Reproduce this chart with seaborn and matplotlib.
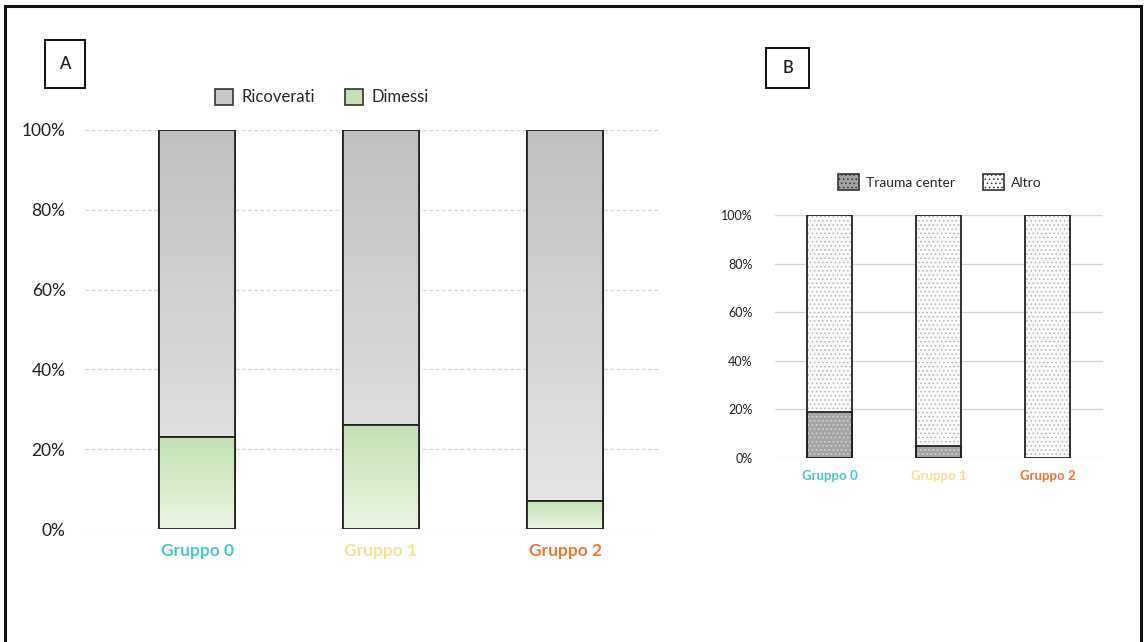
import numpy as np
import pandas as pd
import matplotlib
matplotlib.use("Agg")
import matplotlib.pyplot as plt
from matplotlib.patches import Rectangle
from matplotlib.colors import LinearSegmentedColormap
import seaborn as sns

# ---- data -------------------------------------------------------------
gruppi = ["Gruppo 0", "Gruppo 1", "Gruppo 2"]
gruppo_colori = ["#4cc3c8", "#f6df93", "#e2783a"]

# Panel A: destination after the emergency visit (%)
dimessi = [23, 26, 7]
ricoverati = [77, 74, 93]

# Panel B: admitting hospital (%)
trauma_center = [19, 5, 0]
altro = [81, 95, 100]

y_ticks = [0, 20, 40, 60, 80, 100]
y_tick_labels = ["0%", "20%", "40%", "60%", "80%", "100%"]

# ---- figure -----------------------------------------------------------
sns.set_theme(style="white")
plt.rcParams["font.family"] = ["Lato", "DejaVu Sans"]
plt.rcParams["hatch.linewidth"] = 0.6

W, H = 1144, 642
fig = plt.figure(figsize=(W / 100, H / 100), dpi=100)


def px_axes(x0, y_top, x1, y_bot):
    return fig.add_axes([x0 / W, 1 - y_bot / H, (x1 - x0) / W, (y_bot - y_top) / H])


def gradient_fill(ax, patch, top_color, bottom_color, z):
    x, y = patch.get_x(), patch.get_y()
    w, h = patch.get_width(), patch.get_height()
    if h <= 0:
        return
    cmap = LinearSegmentedColormap.from_list("g", [bottom_color, top_color])
    grad = np.linspace(0, 1, 256).reshape(-1, 1)
    im = ax.imshow(grad, extent=[x, x + w, y, y + h], origin="lower",
                   aspect="auto", cmap=cmap, zorder=z, interpolation="bilinear")
    im.set_clip_path(patch)


# outer frame
fig.patches.append(Rectangle((5 / W, -0.05), 1136 / W, 1 - 6 / H + 0.05,
                             transform=fig.transFigure, fill=False,
                             edgecolor="#111111", linewidth=2.2))

# ---- panel A ----------------------------------------------------------
axA = px_axes(85, 130, 660, 529)
dfA = pd.DataFrame({"gruppo": gruppi, "totale": np.add(dimessi, ricoverati),
                    "dimessi": dimessi})
sns.barplot(data=dfA, x="gruppo", y="totale", ax=axA, color="#d0d0d0",
            width=0.41, edgecolor="#222222", linewidth=1.3, zorder=3,
            saturation=1)
n_tot = len(axA.patches)
sns.barplot(data=dfA, x="gruppo", y="dimessi", ax=axA, color="#d5ebc8",
            width=0.41, edgecolor="#222222", linewidth=1.3, zorder=3,
            saturation=1)
for i, p in enumerate(list(axA.patches)):
    if i < n_tot:
        gradient_fill(axA, p, "#c0c0c0", "#e8e8e8", 3.5)
    else:
        p.set_zorder(4)
        gradient_fill(axA, p, "#c5e1b4", "#eaf4e4", 4.5)
# redraw outlines on top of gradients
for p in axA.patches:
    axA.add_patch(Rectangle((p.get_x(), p.get_y()), p.get_width(), p.get_height(),
                            fill=False, edgecolor="#222222", linewidth=1.3,
                            zorder=p.get_zorder() + 1))

axA.set_xlim(-0.609, 2.516)
axA.set_ylim(0, 100)
axA.set_yticks(y_ticks)
axA.set_yticklabels(y_tick_labels, fontsize=12.5, color="#1f1f1f")
axA.yaxis.grid(True, color="#d4d4d4", linestyle=(0, (3, 2)), linewidth=0.9)
axA.set_axisbelow(True)
for s in axA.spines.values():
    s.set_visible(False)
axA.tick_params(axis="y", length=0, pad=14)
axA.tick_params(axis="x", length=0, pad=10)
axA.set_xlabel("")
axA.set_ylabel("")
for lab, c in zip(axA.get_xticklabels(), gruppo_colori):
    lab.set_color(c)
    lab.set_fontweight("bold")
    lab.set_fontsize(12.5)

legA = [Rectangle((0, 0), 1, 1, facecolor="#c8c8c8", edgecolor="#333333", lw=1.2),
        Rectangle((0, 0), 1, 1, facecolor="#c6e0b4", edgecolor="#333333", lw=1.2)]
fig.legend(legA, ["Ricoverati", "Dimessi"], loc="center", ncol=2,
           bbox_to_anchor=(322 / W, 1 - 97 / H), frameon=False, fontsize=12,
           handlelength=1.1, handleheight=1.1, handletextpad=0.5,
           columnspacing=1.8)

# ---- panel B ----------------------------------------------------------
axB = px_axes(775, 215, 1103, 458)
dfB = pd.DataFrame({"gruppo": gruppi, "totale": np.add(trauma_center, altro),
                    "trauma": trauma_center})
sns.barplot(data=dfB, x="gruppo", y="totale", ax=axB, color="#fafafa",
            width=0.41, edgecolor="#b4b4b4", linewidth=0, hatch="....",
            zorder=3, saturation=1)
sns.barplot(data=dfB, x="gruppo", y="trauma", ax=axB, color="#a4a4a4",
            width=0.41, edgecolor="#d8d8d8", linewidth=0, hatch="....",
            zorder=4, saturation=1)
for p in list(axB.patches):
    if p.get_height() > 0:
        axB.add_patch(Rectangle((p.get_x(), p.get_y()), p.get_width(), p.get_height(),
                                fill=False, edgecolor="#222222", linewidth=1.3,
                                zorder=p.get_zorder() + 1))
    else:
        p.set_visible(False)

axB.set_xlim(-0.5, 2.51)
axB.set_ylim(0, 100)
axB.set_yticks(y_ticks)
axB.set_yticklabels(y_tick_labels, fontsize=9, color="#1f1f1f")
axB.yaxis.grid(True, color="#d4d4d4", linestyle="-", linewidth=0.9)
axB.set_axisbelow(True)
for s in axB.spines.values():
    s.set_visible(False)
axB.tick_params(axis="y", length=0, pad=16)
axB.tick_params(axis="x", length=0, pad=9)
axB.set_xlabel("")
axB.set_ylabel("")
for lab, c in zip(axB.get_xticklabels(), gruppo_colori):
    lab.set_color(c)
    lab.set_fontweight("bold")
    lab.set_fontsize(9.5)

legB = [Rectangle((0, 0), 1, 1, facecolor="#a4a4a4", edgecolor="#333333", lw=1.2,
                  hatch="...."),
        Rectangle((0, 0), 1, 1, facecolor="#fafafa", edgecolor="#333333", lw=1.2,
                  hatch="....")]
fig.legend(legB, ["Trauma center", "Altro"], loc="center", ncol=2,
           bbox_to_anchor=(940 / W, 1 - 182 / H), frameon=False, fontsize=10,
           handlelength=1.5, handleheight=1.5, handletextpad=0.5,
           columnspacing=2.0)

# ---- panel letters ----------------------------------------------------
for letter, (x0, y0, x1, y1) in [("A", (45, 40, 85, 88)), ("B", (766, 48, 809, 88))]:
    fig.patches.append(Rectangle((x0 / W, 1 - y1 / H), (x1 - x0) / W, (y1 - y0) / H,
                                 transform=fig.transFigure, fill=False,
                                 edgecolor="#111111", linewidth=1.4))
    fig.text((x0 + x1) / 2 / W, 1 - (y0 + y1) / 2 / H, letter, ha="center",
             va="center", fontsize=12, color="#222222", fontweight="semibold")

fig.savefig("out.png", dpi=100, facecolor="white")
